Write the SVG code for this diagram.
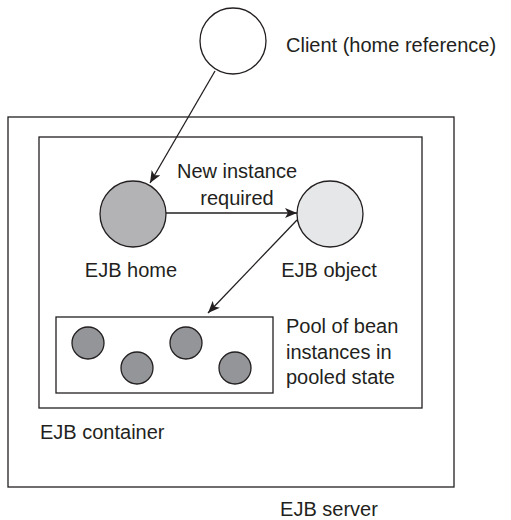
<svg xmlns="http://www.w3.org/2000/svg" width="511" height="520" viewBox="0 0 511 520">
<defs>
<marker id="arr" viewBox="0 0 12 10" refX="12" refY="5" markerWidth="12" markerHeight="10" markerUnits="userSpaceOnUse" orient="auto">
<path d="M0,0 L12,5 L0,10 L3,5 Z" fill="#231f20"/>
</marker>
</defs>
<style>
.t{font-family:"Liberation Sans",Arial,sans-serif;font-size:20px;fill:#231f20}
.b{fill:none;stroke:#231f20;stroke-width:1.3}
.c{stroke:#231f20;stroke-width:1.3}
.l{stroke:#231f20;stroke-width:1.3;fill:none}
</style>
<rect width="511" height="520" fill="#fff"/>
<g id="server">
<rect class="b" x="8" y="117" width="446" height="370"/>
<text class="t" x="329" y="516" text-anchor="middle">EJB server</text>
</g>
<g id="container">
<rect class="b" x="39" y="137" width="383" height="271"/>
<text class="t" x="40" y="439">EJB container</text>
</g>
<g id="client">
<circle class="c" cx="233" cy="41" r="33" fill="#fff"/>
<text class="t" x="286" y="52">Client (home reference)</text>
</g>
<g id="home">
<circle class="c" cx="133" cy="214" r="33" fill="#b3b3b5"/>
<text class="t" x="131" y="277" text-anchor="middle">EJB home</text>
</g>
<g id="object">
<circle class="c" cx="330" cy="214" r="33" fill="#e6e7e8"/>
<text class="t" x="329" y="277" text-anchor="middle">EJB object</text>
</g>
<g id="pool">
<rect class="b" x="56" y="317" width="217" height="76"/>
<circle class="c" cx="88" cy="343" r="16" fill="#939598"/>
<circle class="c" cx="137" cy="368" r="16" fill="#939598"/>
<circle class="c" cx="186" cy="343" r="16" fill="#939598"/>
<circle class="c" cx="235" cy="368" r="16" fill="#939598"/>
<text class="t" x="286" y="333">Pool of bean</text>
<text class="t" x="286" y="359">instances in</text>
<text class="t" x="286" y="384">pooled state</text>
</g>
<g id="connectors">
<line class="l" x1="215" y1="71" x2="150" y2="183" marker-end="url(#arr)"/>
<line class="l" x1="166" y1="213" x2="297" y2="213" marker-end="url(#arr)"/>
<line class="l" x1="297" y1="220" x2="208" y2="313" marker-end="url(#arr)"/>
<text class="t" x="237" y="178" text-anchor="middle">New instance</text>
<text class="t" x="237" y="205" text-anchor="middle">required</text>
</g>
</svg>
